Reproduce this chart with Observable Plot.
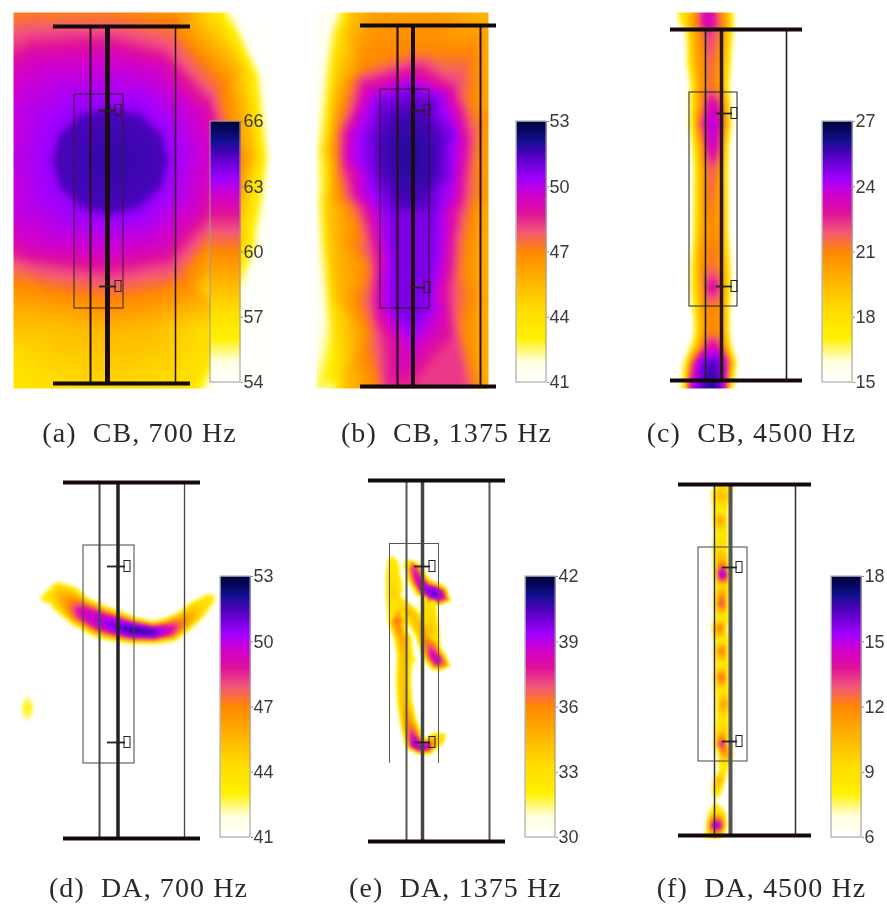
<!DOCTYPE html>
<html><head><meta charset="utf-8">
<script src="https://cdn.jsdelivr.net/npm/d3@7"></script>
<script src="https://cdn.jsdelivr.net/npm/@observablehq/plot@0.6"></script>
<style>
html,body{margin:0;padding:0;background:#fff}
#fig{position:relative;width:887px;height:908px;overflow:hidden}
#fig>svg,#fig>div{position:absolute}
</style></head><body><div id="fig"></div>
<script>
// Sound-level maps: x and y are positions on the figure, levels are in dB.
const levelStops = [0,.08,.17,.28,.4,.5,.58,.65,.72,.78,.86,.93,1];
const levelColors = ["#ffffff","#ffffe0","#fff000","#ffdc00","#ffb000","#ff8800","#f2557c","#e0109a","#d000d0","#a000ff","#5a00c8","#10108c","#00003a"];

// (a) CB 700 Hz : iso-level rings [dB, points]
const ringsA = [
 [64.8,[[110,160]]],
 [64.5,[[165,160],[158,184],[137,202],[110,210],[83,202],[62,184],[55,160],[62,136],[83,118],[110,112],[137,118],[158,136]]],
 [63.5,[[170,160],[163,189],[141,211],[110,218],[79,211],[57,189],[50,160],[57,131],[79,109],[110,104],[141,109],[163,131]]],
 [62.6,[[207,157],[194,205],[158,241],[110,250],[40,243],[5,225],[-5,157],[5,90],[40,65],[110,60],[158,73],[194,109]]],
 [62.2,[[217,157],[203,210],[163,250],[110,260],[35,252],[0,235],[-15,157],[0,75],[35,55],[110,50],[163,64],[203,104]]],
 [61.3,[[226,157],[212,218],[171,263],[110,275],[30,263],[-5,252],[-45,157],[-5,55],[30,38],[110,35],[165,50],[208,96]]],
 [60.6,[[232,157],[218,225],[178,272],[110,288],[25,272],[-10,268],[-55,157],[-10,30],[42,22],[110,22],[170,35],[215,90]]],
 [60,[[240,157],[228,222],[185,285],[110,303],[20,285],[-15,280],[-65,157],[-15,15],[35,5],[110,8],[178,18],[224,82]]],
 [58.5,[[252,157],[238,235],[208,305],[150,325],[110,332],[60,322],[0,317],[-75,157],[-25,-5],[110,-15],[195,8],[240,70]]],
 [57,[[260,157],[245,240],[220,330],[190,388],[110,415],[40,392],[5,365],[-40,340],[-85,157],[-40,-20],[110,-30],[215,12],[250,75]]],
 [55.5,[[266,157],[256,240],[232,310],[200,392],[110,430],[-20,420],[-70,330],[-100,157],[-60,-40],[110,-45],[222,8],[256,72]]],
 [54.1,[[272,157],[262,240],[245,295],[210,395],[110,445],[-50,440],[-90,330],[-120,157],[-80,-60],[110,-60],[232,5],[264,72]]]
];
// (b) CB 1375 Hz : iso-level rings [dB, points]
const ringsB = [
 [52,[[410,155]]],
 [51.6,[[410,113],[425,120],[435,145],[433,175],[422,195],[410,202],[398,195],[387,175],[383,145],[393,120]]],
 [50.8,[[410,90],[380,100],[368,135],[372,175],[388,215],[395,270],[394,305],[410,322],[425,305],[430,270],[435,215],[448,175],[452,135],[440,100]]],
 [49.7,[[410,78],[367,97],[350,133],[348,157],[360,193],[378,227],[382,267],[380,300],[397,333],[410,348],[427,333],[440,307],[443,267],[447,227],[457,187],[460,143],[447,100]]],
 [48.3,[[410,65],[360,80],[342,133],[343,167],[360,207],[372,253],[372,300],[380,335],[384,392],[410,392],[465,392],[455,340],[450,290],[455,235],[465,187],[470,140],[455,85]]],
 [47,[[410,50],[363,67],[337,127],[337,173],[357,227],[367,267],[368,333],[377,392],[477,392],[463,333],[463,267],[470,217],[477,167],[470,100],[430,50]]],
 [46.3,[[410,10],[375,8],[445,8]]],
 [45.4,[[356,8],[347,33],[339,80],[328,150],[330,200],[332,240],[337,300],[345,370],[347,394],[495,394],[494,300],[497,200],[497,100],[495,8]]],
 [44,[[347,8],[338,33],[331,80],[322,150],[323,200],[325,240],[330,300],[337,370],[339,394]]],
 [41.3,[[338,6],[328,33],[322,80],[315,150],[316,200],[318,240],[323,300],[329,394],[302,0],[302,400]]]
];
// (c) CB 4500 Hz : rows across the plate [y, [x, dB]...]
const rowsC = [
 [12,[674,15],[680,17.5],[690,19.5],[698,21.5],[702,22.8],[707,23.4],[713,22.8],[718,21.5],[726,20],[731,17.5],[736,15]],
 [24,[676,15],[682,17.5],[690,20],[698,21.5],[702,22.8],[707,23.4],[713,22.8],[718,22],[726,20],[731,18],[736,15]],
 [32,[684,15],[687,17.5],[692,19.5],[700,21],[708,22.5],[718,21.5],[726,19.5],[731,17.5],[735,15]],
 [65,[685,15],[688,17.5],[696,20],[710,21.8],[722,20],[729,17.5],[732,15]],
 [85,[688,15],[691,17.5],[698,20],[710,21.5],[722,20],[727,17.5],[731,15]],
 [105,[687,15],[692,18],[700,20.5],[706,22.5],[712,23.5],[719,22.5],[724,20.5],[729,17.5],[732,15]],
 [123,[686,15],[692,18],[697,21],[704,23],[712,24.2],[720,23],[725,20.5],[730,17.5],[733,15]],
 [145,[689,15],[694,18],[701,20.5],[706,22.7],[712,23.6],[718,22.7],[722,20.5],[727,17.5],[731,15]],
 [170,[691,15],[696,18],[703,20.5],[712,22],[722,20],[726,17.5],[730,15]],
 [230,[691,15],[695,18],[703,20.5],[712,20.8],[722,20.5],[726,17.5],[730,15]],
 [265,[688,15],[693,18],[700,20.5],[712,21.5],[722,20.5],[728,18],[732,15]],
 [287,[688,15],[693,18],[702,20.5],[706,22.5],[712,23.2],[718,22.5],[722,20.5],[729,18],[733,15]],
 [310,[690,15],[695,18],[703,20.5],[712,21],[722,20.5],[727,18],[731,15]],
 [330,[692,15],[696,18],[704,20.5],[712,21],[722,20.5],[727,18],[731,15]],
 [345,[688,15],[693,18],[700,20.5],[706,22.5],[712,23.2],[718,22.5],[723,21],[729,18],[733,15]],
 [362,[680,15],[686,18],[692,22],[699,24.5],[712,25.5],[722,24.5],[727,22.5],[733,19],[738,15]],
 [388,[678,15],[684,18],[689,23],[697,25],[712,26.2],[720,25],[725,23],[730,18],[735,15]]
];
// (d, e, f) DA maps : ridges as lists of [x, y, peak dB, half width]
const ridgesD = [
 [[47,597,43.5,6],[55,595,45,12],[67,600,46.5,14],[80,611,49.5,14],[100,621,50.5,15],[117,626,51.3,14],[133,630,52.2,12],[153,632,51.8,10],[170,629,49.5,11],[183,621,47,9],[197,609,45,8],[210,598,43.5,4]],
 [[27,700,42.5,3],[27,708,43,4],[27,716,42.5,3]]
];
const ridgesE = [
 [[392,560,32.3,3.5],[392,575,33,5],[393,595,33.8,6],[397,620,36.6,8],[402,637,35.2,7],[404,655,34.5,6],[403,680,34.3,6],[404,700,34.5,6],[408,722,35.8,7],[412,735,38,8],[415,745,39.5,8]],
 [[413,567,37.5,7],[417,578,38.5,8],[424,588,39.5,9],[432,592,40.7,10],[439,595,39.8,10],[443,597,38,7]],
 [[401,603,33.3,4],[408,612,34.5,6],[417,622,34.3,7],[424,633,35.2,8],[429,645,37,9],[433,655,38.5,9],[438,661,38.7,9],[443,663,36.5,6]],
 [[426,605,33,4],[431,618,33.5,5],[433,635,33.5,5]],
 [[420,746,39.5,7],[427,746,39,7],[433,741,35,6],[440,737,33,5]]
];
const ridgesF = [
 [[721,490,10,8],[721,497,10.5,8],[720,510,8.2,6],[720,520,11.5,6],[721,533,8.5,5],[720,548,9.5,6],[721,560,11,6],[722,575,16,7],[722,585,9.5,6],[721,603,13.5,6],[722,617,8.5,6],[719,628,12.5,6],[722,640,8.5,6],[721,650,12.5,6],[722,665,8.5,6],[721,677,13,6],[722,690,8.5,6],[723,703,11.5,6],[722,718,9,5],[722,730,9.5,6],[721,743,14,6],[725,754,11.5,6],[723,764,8.5,4]],
 [[722,772,9,3],[719,780,11,4],[716,792,9,3]],
 [[717,812,9,7],[716,825,16,9],[715,833,11,8]]
];

function segDist(px,py,a,b){
  const dx=b[0]-a[0], dy=b[1]-a[1], l=dx*dx+dy*dy;
  const t=l?Math.max(0,Math.min(1,((px-a[0])*dx+(py-a[1])*dy)/l)):0;
  return Math.hypot(px-a[0]-t*dx,py-a[1]-t*dy);
}
// Turn ridges into [x, y, dB] samples: peak, shoulder, yellow edge and white ground beside them.
function ridgeSamples(ridges, lo, [ex1,ex2,ey1,ey2]) {
  const segments = ridges.flatMap(r => r.map((p,i)=>[p,r[Math.min(i+1,r.length-1)]]));
  const out = [], yellow = lo + 2.64;
  const push = (x,y,v,d) => {
    if (segments.some(([a,b]) => segDist(x,y,a,b) < Math.max(d*.8,Math.min(a[3],b[3])*.9))) return;
    out.push({x,y,v});
  };
  for (const r of ridges) r.forEach((p,i) => {
    const [x,y,v,w] = p, a = r[Math.max(i-1,0)], b = r[Math.min(i+1,r.length-1)];
    let tx = b[0]-a[0], ty = b[1]-a[1], n = Math.hypot(tx,ty);
    if (!n) { tx = 1; ty = 0; n = 1; }
    tx /= n; ty /= n;
    out.push({x,y,v});
    const edge = Math.min(v,yellow);
    const offsets = [[w*.55, v-.25*(v-edge)],[w,edge],[w+3.5,lo]];
    const dirs = [[-ty,tx],[ty,-tx]];
    if (i===0) dirs.push([-tx,-ty]);
    if (i===r.length-1) dirs.push([tx,ty]);
    for (const [ux,uy] of dirs) for (const [d,val] of offsets) {
      if (d<w) { out.push({x:x+ux*d,y:y+uy*d,v:val}); continue; }
      push(x+ux*d,y+uy*d,val,d);
    }
  });
  for (const x of [ex1,ex2]) for (const y of [ey1,ey2]) out.push({x,y,v:lo});
  return out;
}

const rec = (x,y,v)=>({x,y,v});
const samplesA = ringsA.flatMap(([v,p])=>p.map(([x,y])=>rec(x,y,v)));
const samplesB = ringsB.flatMap(([v,p])=>p.map(([x,y])=>rec(x,y,v)));
const samplesC = rowsC.flatMap(([y,...c])=>c.map(([x,v])=>rec(x,y,v)));
const extentD=[15,225,575,725], extentE=[380,456,540,762], extentF=[700,738,484,838];

const panels = [
 {caption:"(a)\u00a0\u00a0CB, 700 Hz",capX:139,capY:433,box:[0,0,300,460],samples:samplesA,extent:[13,272,12,388],blur:2,pixel:1,scale:[54,66],ticks:[54,57,60,63,66],bar:[210,121],
  flange:[53,190,26,383],web:[107,5,"#1d0b14"],plate:[90,175,2,1.5,"#2a1020"],sideBox:[74,123,94,308,"#3a1a25"],sensors:[[99,116,110],[99,116,286]]},
 {caption:"(b)\u00a0\u00a0CB, 1375 Hz",capX:446,capY:433,box:[300,0,300,460],samples:samplesB,extent:[316,488,12,388],blur:3,pixel:1,scale:[41,53],ticks:[41,44,47,50,53],bar:[516,121],
  flange:[360,496,25,386],web:[412.5,4,"#1d0b14"],plate:[397,480,2.2,2,"#2a1020"],sideBox:[380,429,89,308,"#2a1020"],sensors:[[410,425,110],[410,425,287]]},
 {caption:"(c)\u00a0\u00a0CB, 4500 Hz",capX:751,capY:433,box:[600,0,287,460],samples:samplesC,extent:[676,740,12,388],blur:1.5,pixel:1,scale:[15,27],ticks:[15,18,21,24,27],bar:[822,121],
  flange:[670,802,29,380],web:[721,3.5,"#2a1a20"],plate:[705,786,1.6,1.6,"#222"],sideBox:[689,737,92,306,"#222"],sensors:[[716,732,113],[716,732,286]]},
 {caption:"(d)\u00a0\u00a0DA, 700 Hz",capX:148,capY:888,box:[0,460,300,448],samples:ridgeSamples(ridgesD,41,extentD),extent:extentD,blur:6,pixel:.25,scale:[41,53],ticks:[41,44,47,50,53],bar:[220,576],
  flange:[63,200,482,838],web:[117.5,3.5,"#222"],plate:[99,184,2,1.3,"#444"],sideBox:[83,134,545,763,"#444"],sensors:[[107,125,566],[107,125,742]]},
 {caption:"(e)\u00a0\u00a0DA, 1375 Hz",capX:455,capY:888,box:[340,460,260,448],samples:ridgeSamples(ridgesE,30,extentE),extent:extentE,blur:4,pixel:.25,scale:[30,42],ticks:[30,33,36,39,42],bar:[525,576],
  flange:[368,505,480,841],web:[422,3.5,"#444"],plate:[406,489,2,2,"#555"],sideBox:[389,438,543,763,"#555"],openBox:true,sensors:[[414,430,566],[414,430,742]]},
 {caption:"(f)\u00a0\u00a0DA, 4500 Hz",capX:761,capY:888,box:[650,460,237,448],samples:ridgeSamples(ridgesF,6,extentF),extent:extentF,blur:6,pixel:.25,scale:[6,18],ticks:[6,9,12,15,18],bar:[831,576],
  flange:[678,811,484,835],web:[730,4,"#555"],plate:[714,795,1.5,1.5,"#333"],sideBox:[698,747,547,761,"#444"],sensors:[[722,737,567],[722,737,741]]}
];

const colorFor = ([lo,hi]) => ({type:"linear",domain:levelStops.map(t=>lo+t*(hi-lo)),range:levelColors,clamp:true});
const fig = document.getElementById("fig");
function place(node,left,top){node.style.left=left+"px";node.style.top=top+"px";fig.append(node);}

for (const p of panels){
  const [bx,by,bw,bh]=p.box, [ex1,ex2,ey1,ey2]=p.extent, [fx1,fx2,fy1,fy2]=p.flange;
  const [px1,px2,pw1,pw2,pc]=p.plate, [sx1,sx2,sy1,sy2,sc]=p.sideBox;
  const boxMarks = p.openBox
    ? [Plot.ruleY([sy1],{x1:sx1,x2:sx2,stroke:sc,strokeWidth:1}),
       Plot.ruleX([sx1,sx2],{y1:sy1,y2:sy2,stroke:sc,strokeWidth:1})]
    : [Plot.rect([0],{x1:sx1,x2:sx2,y1:sy1,y2:sy2,fill:"none",stroke:sc,strokeWidth:1})];
  const plot = Plot.plot({
    width:bw,height:bh,margin:0,
    style:{background:"transparent",letterSpacing:"1.1px",filter:"blur(.45px)"},
    x:{domain:[bx,bx+bw],axis:null},
    y:{domain:[by+bh,by],axis:null},
    color:colorFor(p.scale),
    marks:[
      Plot.raster(p.samples,{x:"x",y:"y",fill:"v",x1:ex1,x2:ex2,y1:ey1,y2:ey2,interpolate:"barycentric",blur:p.blur,pixelSize:p.pixel}),
      Plot.ruleX([px1],{y1:fy1,y2:fy2,stroke:pc,strokeWidth:pw1}),
      Plot.ruleX([px2],{y1:fy1,y2:fy2,stroke:pc,strokeWidth:pw2}),
      ...boxMarks,
      Plot.ruleX([p.web[0]],{y1:fy1,y2:fy2,stroke:p.web[2],strokeWidth:p.web[1]}),
      Plot.ruleY([fy1,fy2],{x1:fx1,x2:fx2,stroke:"#14090e",strokeWidth:3.8}),
      Plot.ruleY(p.sensors,{y:d=>d[2],x1:d=>d[0],x2:d=>d[1],stroke:"#222",strokeWidth:1.8}),
      Plot.rect(p.sensors,{x1:d=>d[1]-1,x2:d=>d[1]+5,y1:d=>d[2]-5.5,y2:d=>d[2]+5.5,fill:"none",stroke:"#222",strokeWidth:1}),
      Plot.text([p.caption],{x:p.capX,y:p.capY,text:d=>d,fontFamily:"Liberation Serif",fontSize:28,fill:"#2a2a2a",textAnchor:"middle"})
    ]
  });
  place(plot,bx,by);

  const [lo,hi]=p.scale;
  const bar = Plot.plot({
    width:70,height:281,marginLeft:1,marginRight:39,marginTop:10,marginBottom:10,
    style:{background:"transparent",overflow:"visible",filter:"blur(.35px)"},
    x:{domain:[0,1],axis:null},
    y:{domain:[lo,hi],axis:null},
    color:colorFor(p.scale),
    marks:[
      Plot.raster({fill:(x,y)=>y,x1:0,x2:1,y1:lo,y2:hi,pixelSize:1}),
      Plot.rect([0],{x1:0,x2:1,y1:lo,y2:hi,fill:"none",stroke:"#999",strokeWidth:1}),
      Plot.axisY({anchor:"right",ticks:p.ticks,tickFormat:d=>String(d),tickSize:2,tickPadding:1,fontSize:18,fontFamily:"Liberation Sans",color:"#3a3a3a",stroke:"#888"})
    ]
  });
  place(bar,p.bar[0]-1,p.bar[1]-10);
}
</script></body></html>
